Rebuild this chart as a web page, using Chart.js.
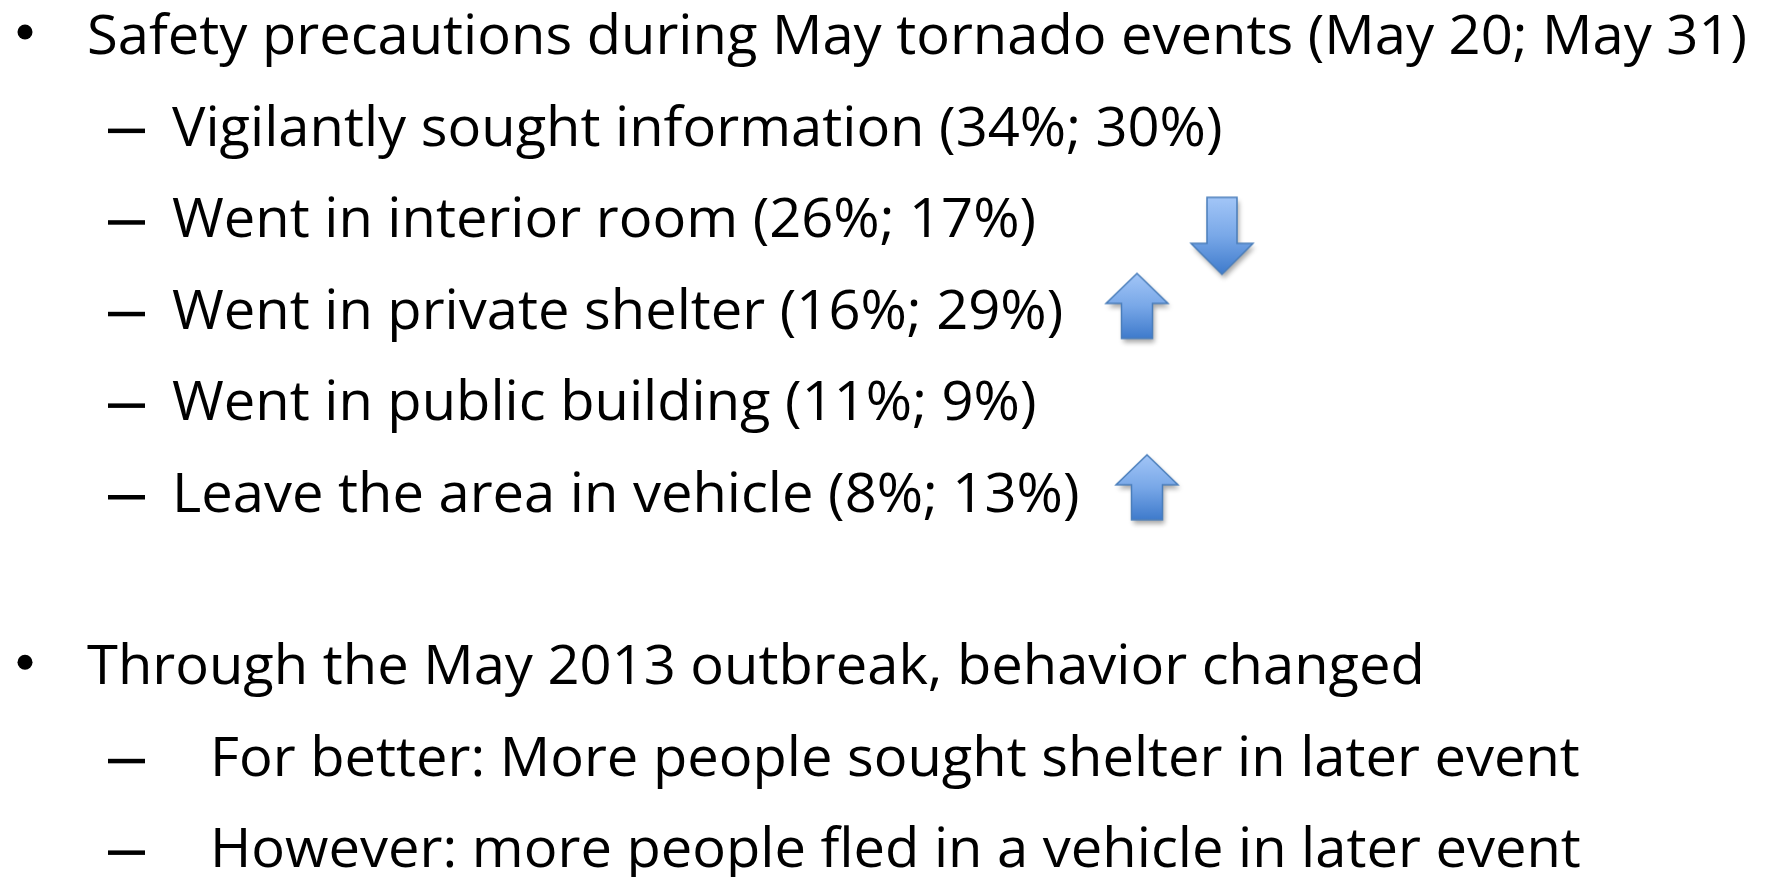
<!DOCTYPE html>
<html>
<head>
<meta charset="utf-8">
<title>May 2013 tornado safety precautions</title>
<script src="https://cdn.jsdelivr.net/npm/chart.js@4/dist/chart.umd.min.js"></script>
<style>
  html, body { margin: 0; padding: 0; background: #fff; overflow: hidden; }
  #canvas { display: block; }
</style>
</head>
<body>
<canvas id="canvas" width="1768" height="877"></canvas>
<script>
// survey data
const events = ['May 20', 'May 31'];
const categories = ['Vigilantly sought information', 'Went in interior room', 'Went in private shelter', 'Went in public building', 'Leave the area in vehicle'];
const may20 = [34, 26, 16, 11, 8];
const may31 = [30, 17, 29, 9, 13];
const notable = [false, true, true, false, true];   // changes flagged with an arrow
const takeaways = ['For better: More people sought shelter in later event', 'However: more people fled in a vehicle in later event'];
const outbreakLine = 'Through the May 2013 outbreak, behavior changed';

// layout (pixels / row units)
const FONT = '"Open Sans", "Noto Sans", sans-serif';
const fontPx = 55;
const headWidth = 1660;            // width of first line, used to squeeze font to calibri-ish width
const rowGap = 0.88;               // extra space between the two bullets
const arrowCol = { 1: 1222, 2: 1137, 4: 1147 };
const arrowNudge = { 1: -0.015, 2: -0.25, 4: -0.27 };

function arrowImage(dir, w, h, headH, shaftW) {
    const pad = 10;
    const c = document.createElement('canvas');
    c.width = w + pad * 2;
    c.height = h + pad * 2;
    const g = c.getContext('2d');
    g.translate(pad, pad);
    const sx = (w - shaftW) / 2;
    g.beginPath();
    if (dir > 0) {
        g.moveTo(w / 2, 0);
        g.lineTo(w, headH);
        g.lineTo(sx + shaftW, headH);
        g.lineTo(sx + shaftW, h);
        g.lineTo(sx, h);
        g.lineTo(sx, headH);
        g.lineTo(0, headH);
    } else {
        g.moveTo(sx, 0);
        g.lineTo(sx + shaftW, 0);
        g.lineTo(sx + shaftW, h - headH);
        g.lineTo(w, h - headH);
        g.lineTo(w / 2, h);
        g.lineTo(0, h - headH);
        g.lineTo(sx, h - headH);
    }
    g.closePath();
    const grad = g.createLinearGradient(0, 0, 0, h);
    grad.addColorStop(0, '#a3c6f7');
    grad.addColorStop(0.5, '#79a8e8');
    grad.addColorStop(1, '#3f7bcc');
    g.save();
    g.shadowColor = 'rgba(0,0,0,0.35)';
    g.shadowBlur = 5;
    g.shadowOffsetX = 2;
    g.shadowOffsetY = 4;
    g.fillStyle = grad;
    g.fill();
    g.restore();
    g.lineWidth = 1.5;
    g.strokeStyle = '#4a7ebb';
    g.stroke();
    return c;
}

const upArrow = arrowImage(1, 62, 65, 30, 31);
const downArrow = arrowImage(-1, 62, 77, 31, 30);

// rows: 0 header, 1..5 items, then second bullet and its two points
const itemRows = categories.map((c, i) => i + 1);
const outbreakRow = categories.length + 1 + rowGap;

const arrowPoints = [];
const arrowStyles = [];
categories.forEach((c, i) => {
    if (!notable[i]) return;
    arrowPoints.push({ x: arrowCol[i], y: itemRows[i] + arrowNudge[i] });
    arrowStyles.push(may31[i] > may20[i] ? upArrow : downArrow);
});

const slideText = {
    id: 'slideText',
    beforeDatasetsDraw(chart) {
        const ctx = chart.ctx;
        const y = chart.scales.y;
        ctx.save();
        ctx.font = fontPx + 'px ' + FONT;
        const header = 'Safety precautions during May tornado events (' + events.join('; ') + ')';
        const squeeze = headWidth / ctx.measureText(header).width;
        ctx.fillStyle = '#000';
        ctx.textBaseline = 'alphabetic';

        function line(text, x, row) {
            ctx.save();
            ctx.translate(x, y.getPixelForValue(row));
            ctx.scale(squeeze, 1);
            ctx.fillText(text, 0, 0);
            ctx.restore();
        }
        function bullet(row) {
            ctx.beginPath();
            ctx.arc(25, y.getPixelForValue(row) - 22, 7.5, 0, Math.PI * 2);
            ctx.fill();
        }
        function dash(row) {
            ctx.fillRect(108, y.getPixelForValue(row) - 17, 37, 4.5);
        }

        bullet(0);
        line(header, 87, 0);
        categories.forEach((c, i) => {
            dash(itemRows[i]);
            line(c + ' (' + may20[i] + '%; ' + may31[i] + '%)', 172, itemRows[i]);
        });
        bullet(outbreakRow);
        line(outbreakLine, 87, outbreakRow);
        takeaways.forEach((t, i) => {
            dash(outbreakRow + 1 + i);
            line(t, 210, outbreakRow + 1 + i);
        });
        ctx.restore();
    }
};

const rowPx = 91.6;
const ctx = document.getElementById('canvas').getContext('2d');
const yMin = -54 / rowPx;
const yMax = yMin + 877 / rowPx;

// keep the exact ranges (no rounding out to nice ticks)
function pinRange(lo, hi) {
    return scale => { scale.min = lo; scale.max = hi; };
}

new Chart(ctx, {
    type: 'scatter',
    data: {
        datasets: [{
            label: 'change',
            data: arrowPoints,
            pointStyle: c => arrowStyles[c.dataIndex],
            pointRadius: 20,
            pointHoverRadius: 20,
            showLine: false
        }]
    },
    options: {
        responsive: false,
        animation: false,
        events: [],
        layout: { padding: 0, autoPadding: false },
        scales: {
            x: { type: 'linear', display: false, bounds: 'data', min: 0, max: 1768, afterBuildTicks: pinRange(0, 1768) },
            y: { type: 'linear', display: false, bounds: 'data', reverse: true, min: yMin, max: yMax, afterBuildTicks: pinRange(yMin, yMax) }
        },
        plugins: {
            legend: { display: false },
            tooltip: { enabled: false }
        }
    },
    plugins: [slideText]
});
</script>
</body>
</html>
